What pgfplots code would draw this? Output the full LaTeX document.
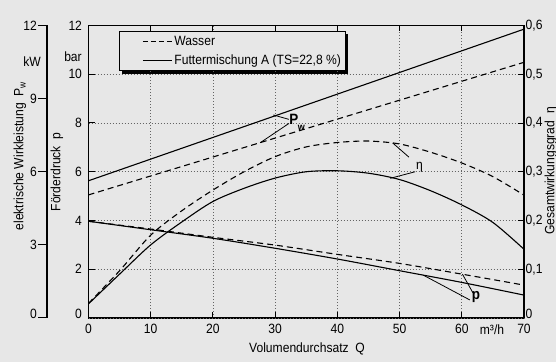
\documentclass[border=0pt]{standalone}
\usepackage{fontspec}
\setmainfont{Liberation Sans}[FakeStretch=0.9]
\usepackage{pgfplots}
\pgfplotsset{compat=1.18}
\definecolor{bg}{RGB}{231,231,231}
\definecolor{gridc}{RGB}{100,100,100}
\pgfdeclarelayer{bgfill}
\pgfdeclarelayer{shadow}
\pgfsetlayers{bgfill,shadow,main}
\begin{document}
\begin{tikzpicture}[font=\fontsize{13.5}{16}\selectfont]
\begin{pgfonlayer}{bgfill}
\fill[bg] (0,0) rectangle (556bp,362bp);
\end{pgfonlayer}
\useasboundingbox (0,0) rectangle (556bp,362bp);

% outer axis: electrical power P_w (kW)
\begin{axis}[
  at={(47bp,44bp)}, anchor=south west, scale only axis,
  width=1bp, height=292.5bp,
  xmin=0, xmax=1, ymin=0, ymax=12,
  axis x line=none, axis y line*=left,
  ytick={3,6,9,12}, extra y ticks={0},
  extra y tick style={yticklabel style={yshift=4bp}},
  tick align=outside, major tick length=9bp,
  every tick/.style={black, line width=1bp},
  axis line style={line width=1.3bp},
  yticklabel style={inner xsep=1bp},
  /pgf/number format/assume math mode=true,
]
\end{axis}

% main axis: pressure p (bar), also power in kW (same scale)
\begin{axis}[
  at={(88.5bp,44bp)}, anchor=south west, scale only axis,
  width=435.5bp, height=292.5bp,
  xmin=0, xmax=70, ymin=0, ymax=12,
  xtick={0,10,...,70}, ytick={2,4,...,12},
  extra y ticks={0},
  extra y tick style={yticklabel style={yshift=4bp}},
  xtick pos=both, ytick pos=left,
  tick align=inside, major tick length=6bp,
  every tick/.style={black, line width=1bp},
  axis line style={line width=1.3bp},
  grid=major, grid style={gridc, line width=0.7bp, dash pattern=on 0.8bp off 2.2bp},
  /pgf/number format/assume math mode=true,
  yticklabel style={xshift=-3bp},
  xticklabel style={yshift=-2.5bp},
  legend style={name=leg, at={(0.07,0.981)}, anchor=north west, draw=black, line width=0.8bp,
    fill=bg, inner xsep=2bp, inner ysep=2.5bp, row sep=4bp},
  legend cell align=left,
  legend image code/.code={\path (0bp,0bp); \draw[#1] (21bp,0bp) -- (50bp,0bp);},
  clip=false,
]
\addlegendimage{black, line width=1.1bp, dash pattern=on 5bp off 3bp}
\addlegendentry{Wasser}
\addlegendimage{black, line width=1.1bp}
\addlegendentry{Futtermischung A (TS=22,8 \%)}

% electrical power P_w (kW)
\addplot[black, line width=1.1bp, forget plot] coordinates {(0,5.63) (35,8.74) (70,11.85)};
\addplot[black, line width=1.1bp, dash pattern=on 6bp off 4bp, forget plot] coordinates {(0,5.05) (35,7.77) (70,10.49)};

% delivery pressure p (bar)
\addplot[black, line width=1.1bp, smooth, forget plot] coordinates {
(0,3.97) (10,3.62) (20,3.27) (30,2.86) (40,2.42) (50,1.94) (60,1.46) (70,0.94)};
\addplot[black, line width=1.1bp, smooth, dash pattern=on 6bp off 4bp, forget plot] coordinates {
(0,3.97) (10,3.65) (20,3.31) (30,2.99) (40,2.61) (50,2.24) (60,1.80) (70,1.35)};

% annotations
\draw[line width=0.8bp] (axis cs:29.7,8.33) -- (axis cs:32.2,8.15);
\draw[line width=0.8bp] (axis cs:27.6,7.19) -- (axis cs:32.2,7.98);
\node[font=\fontsize{15}{16}\selectfont\bfseries] at (axis cs:33.0,8.15) {P};
\node[font=\fontsize{10}{11}\selectfont\bfseries] at (axis cs:34.2,7.78) {w};
\draw[line width=0.8bp] (axis cs:48.9,7.18) -- (axis cs:51.5,6.6);
\draw[line width=0.8bp] (axis cs:48.5,5.73) -- (axis cs:52.5,6.0);
\node at (axis cs:53.2,6.18) {η};
\draw[line width=0.8bp] (axis cs:53.8,1.76) -- (axis cs:61.3,0.74);
\draw[line width=0.8bp] (axis cs:60.1,1.80) -- (axis cs:61.8,1.03);
\node[font=\fontsize{15}{16}\selectfont\bfseries] at (axis cs:62.3,0.85) {p};
\end{axis}

% right axis: efficiency eta
\begin{axis}[
  at={(88.5bp,44bp)}, anchor=south west, scale only axis,
  width=435.5bp, height=292.5bp,
  xmin=0, xmax=70, ymin=0, ymax=0.6,
  axis x line=none, axis y line*=right,
  ytick={0.1,0.2,0.3,0.4,0.5,0.6}, extra y ticks={0},
  extra y tick style={yticklabel style={yshift=4bp}},
  tick align=inside, major tick length=6bp,
  every tick/.style={black, line width=1bp},
  axis line style={line width=1.3bp},
  /pgf/number format/assume math mode=true,
  /pgf/number format/fixed, /pgf/number format/precision=1,
  /pgf/number format/use comma,
  yticklabel style={inner xsep=1.5bp},
]
\addplot[black, line width=1.1bp, smooth, dash pattern=on 6bp off 4bp] coordinates {
(0,0.03) (5,0.097) (10,0.17) (15,0.22) (20,0.2625) (25,0.30) (30,0.331) (35,0.351)
(40,0.36) (45,0.363) (50,0.357) (55,0.34) (60,0.318) (65,0.29) (70,0.252)};
\addplot[black, line width=1.1bp, smooth] coordinates {
(0,0.029) (5,0.09) (10,0.15) (15,0.197) (20,0.239) (25,0.266) (30,0.287) (35,0.300)
(40,0.302) (45,0.297) (50,0.284) (55,0.261) (60,0.232) (65,0.196) (70,0.141)};
\end{axis}

% legend shadow
\begin{pgfonlayer}{shadow}
\fill[black] ([shift={(3bp,-3bp)}]leg.south west) rectangle ([shift={(3bp,-3bp)}]leg.north east);
\end{pgfonlayer}

% axis labels
\node[rotate=90] at (20bp,206bp) {elektrische Wirkleistung\ \ P\textsubscript{w}};
\node at (32bp,300bp) {kW};
\node[rotate=90] at (57bp,190bp) {Förderdruck\ \ p};
\node at (73bp,305bp) {bar};
\node[rotate=90] at (551bp,191bp) {Gesamtwirkungsgrad\ \ η};
\node at (307bp,13bp) {Volumendurchsatz\ \ Q};
\node at (492bp,32bp) {m³/h};
\end{tikzpicture}
\end{document}
